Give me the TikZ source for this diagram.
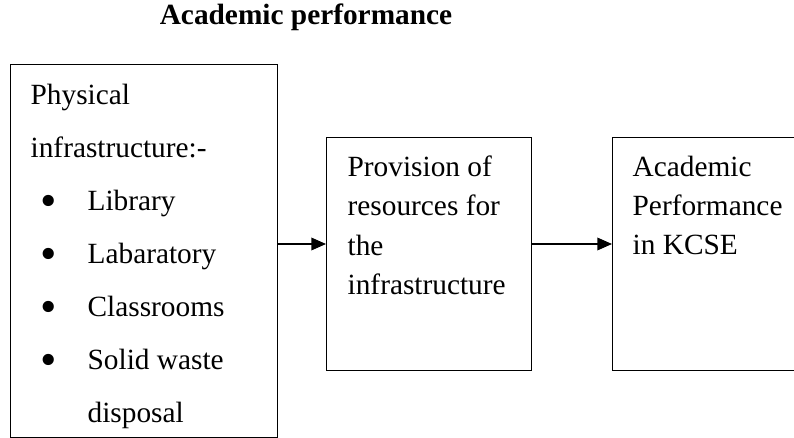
\documentclass[tikz,border=0pt]{standalone}
\usepackage{fontspec}
\setmainfont{Liberation Serif}
\usetikzlibrary{arrows.meta}

\newcommand{\itm}[1]{\makebox[42.75pt][l]{\hspace{7.3pt}\raisebox{-4.5pt}{\scalebox{1.6}{\textbullet}}}#1}

\begin{document}
\begin{tikzpicture}[x=0.75pt, y=-0.75pt, line width=1pt,
  box/.style={draw, anchor=north west, inner sep=0},
  txt/.style={anchor=north west, inner sep=0, align=left},
  conn/.style={-{Triangle[length=11pt,width=9.5pt]}}]

\useasboundingbox (0,0) rectangle (794,438);

\node[anchor=base, font=\fontsize{22}{26}\selectfont\bfseries] (title) at (306,25) {Academic performance};

\node[box, minimum width=200.25pt, minimum height=279.75pt] (phys) at (10,64) {};
\node[box, minimum width=153.75pt, minimum height=174.75pt] (prov) at (326,137) {};
\node[box, minimum width=141pt, minimum height=174.75pt] (perf) at (612,137) {};

\node[txt, font=\fontsize{22}{39.75}\selectfont] (phystext) at (30,83)
  {Physical\\infrastructure:-\\\itm{Library}\\\itm{Labaratory}\\\itm{Classrooms}\\\itm{Solid waste}\\\hspace*{42.75pt}disposal};
\node[txt, font=\fontsize{22}{29.6}\selectfont] (provtext) at (347,155)
  {Provision of\\resources for\\the\\infrastructure};
\node[txt, font=\fontsize{22}{29.6}\selectfont] (perftext) at (632,155)
  {Academic\\Performance\\in KCSE};

\coordinate (lvl) at (0,244);
\draw[conn] (phys.east |- lvl) -- (prov.west |- lvl);
\draw[conn] (prov.east |- lvl) -- (perf.west |- lvl);

\end{tikzpicture}
\end{document}
